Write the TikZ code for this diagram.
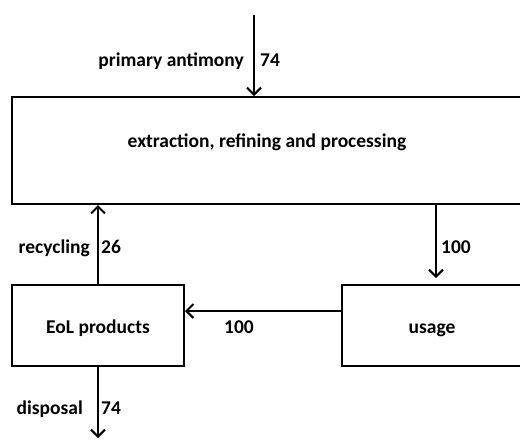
\documentclass[tikz,border=0pt]{standalone}
\usepackage{fontspec}
\setmainfont{Carlito}
\usetikzlibrary{arrows.meta}
\begin{document}
\begin{tikzpicture}[x=1pt,y=-1pt,
  box/.style={draw,line width=2pt,inner sep=0pt},
  arr/.style={line width=2pt,-{Straight Barb[length=7pt,width=14pt,line width=2pt]}},
  lbl/.style={inner sep=0pt,font=\fontsize{19.5}{23}\selectfont\bfseries}]
\useasboundingbox (0,0) rectangle (520,440);
\clip (0,0) rectangle (520,440);
\node[box,minimum width=510pt,minimum height=107pt] (erp) at (267,150.5) {};
\node[lbl,anchor=base] (erptext) at (267,147) {extraction, refining and processing};
\node[box,minimum width=172pt,minimum height=81pt] (eol) at (98,325.5) {};
\node[lbl,anchor=base] (eoltext) at (98,333) {EoL products};
\node[box,minimum width=180pt,minimum height=81pt] (use) at (432,325.5) {};
\node[lbl,anchor=base] (usetext) at (432,333) {usage};
\coordinate (src) at (254,15);
\coordinate (sink) at (98,438);
\coordinate (dn) at (436,0);
\coordinate (hz) at (0,311);
\draw[arr] (src) -- (src |- erp.north);
\draw[arr] (eol.north) -- (eol.north |- erp.south);
\draw[arr,shorten >=6pt] (dn |- erp.south) -- (dn |- use.north);
\draw[arr] (use.west |- hz) -- (eol.east |- hz);
\draw[arr] (eol.south) -- (sink);
\node[lbl,anchor=base east] (l1) at (244,66) {primary antimony};
\node[lbl,anchor=base west] (v1) at (260,66) {74};
\node[lbl,anchor=base east] (l2) at (90,253) {recycling};
\node[lbl,anchor=base west] (v2) at (101,253) {26};
\node[lbl,anchor=base west] (v3) at (441,253) {100};
\node[lbl,anchor=base] (v4) at (239,333) {100};
\node[lbl,anchor=base east] (l5) at (83,414) {disposal};
\node[lbl,anchor=base west] (v5) at (101,414) {74};
\end{tikzpicture}
\end{document}
